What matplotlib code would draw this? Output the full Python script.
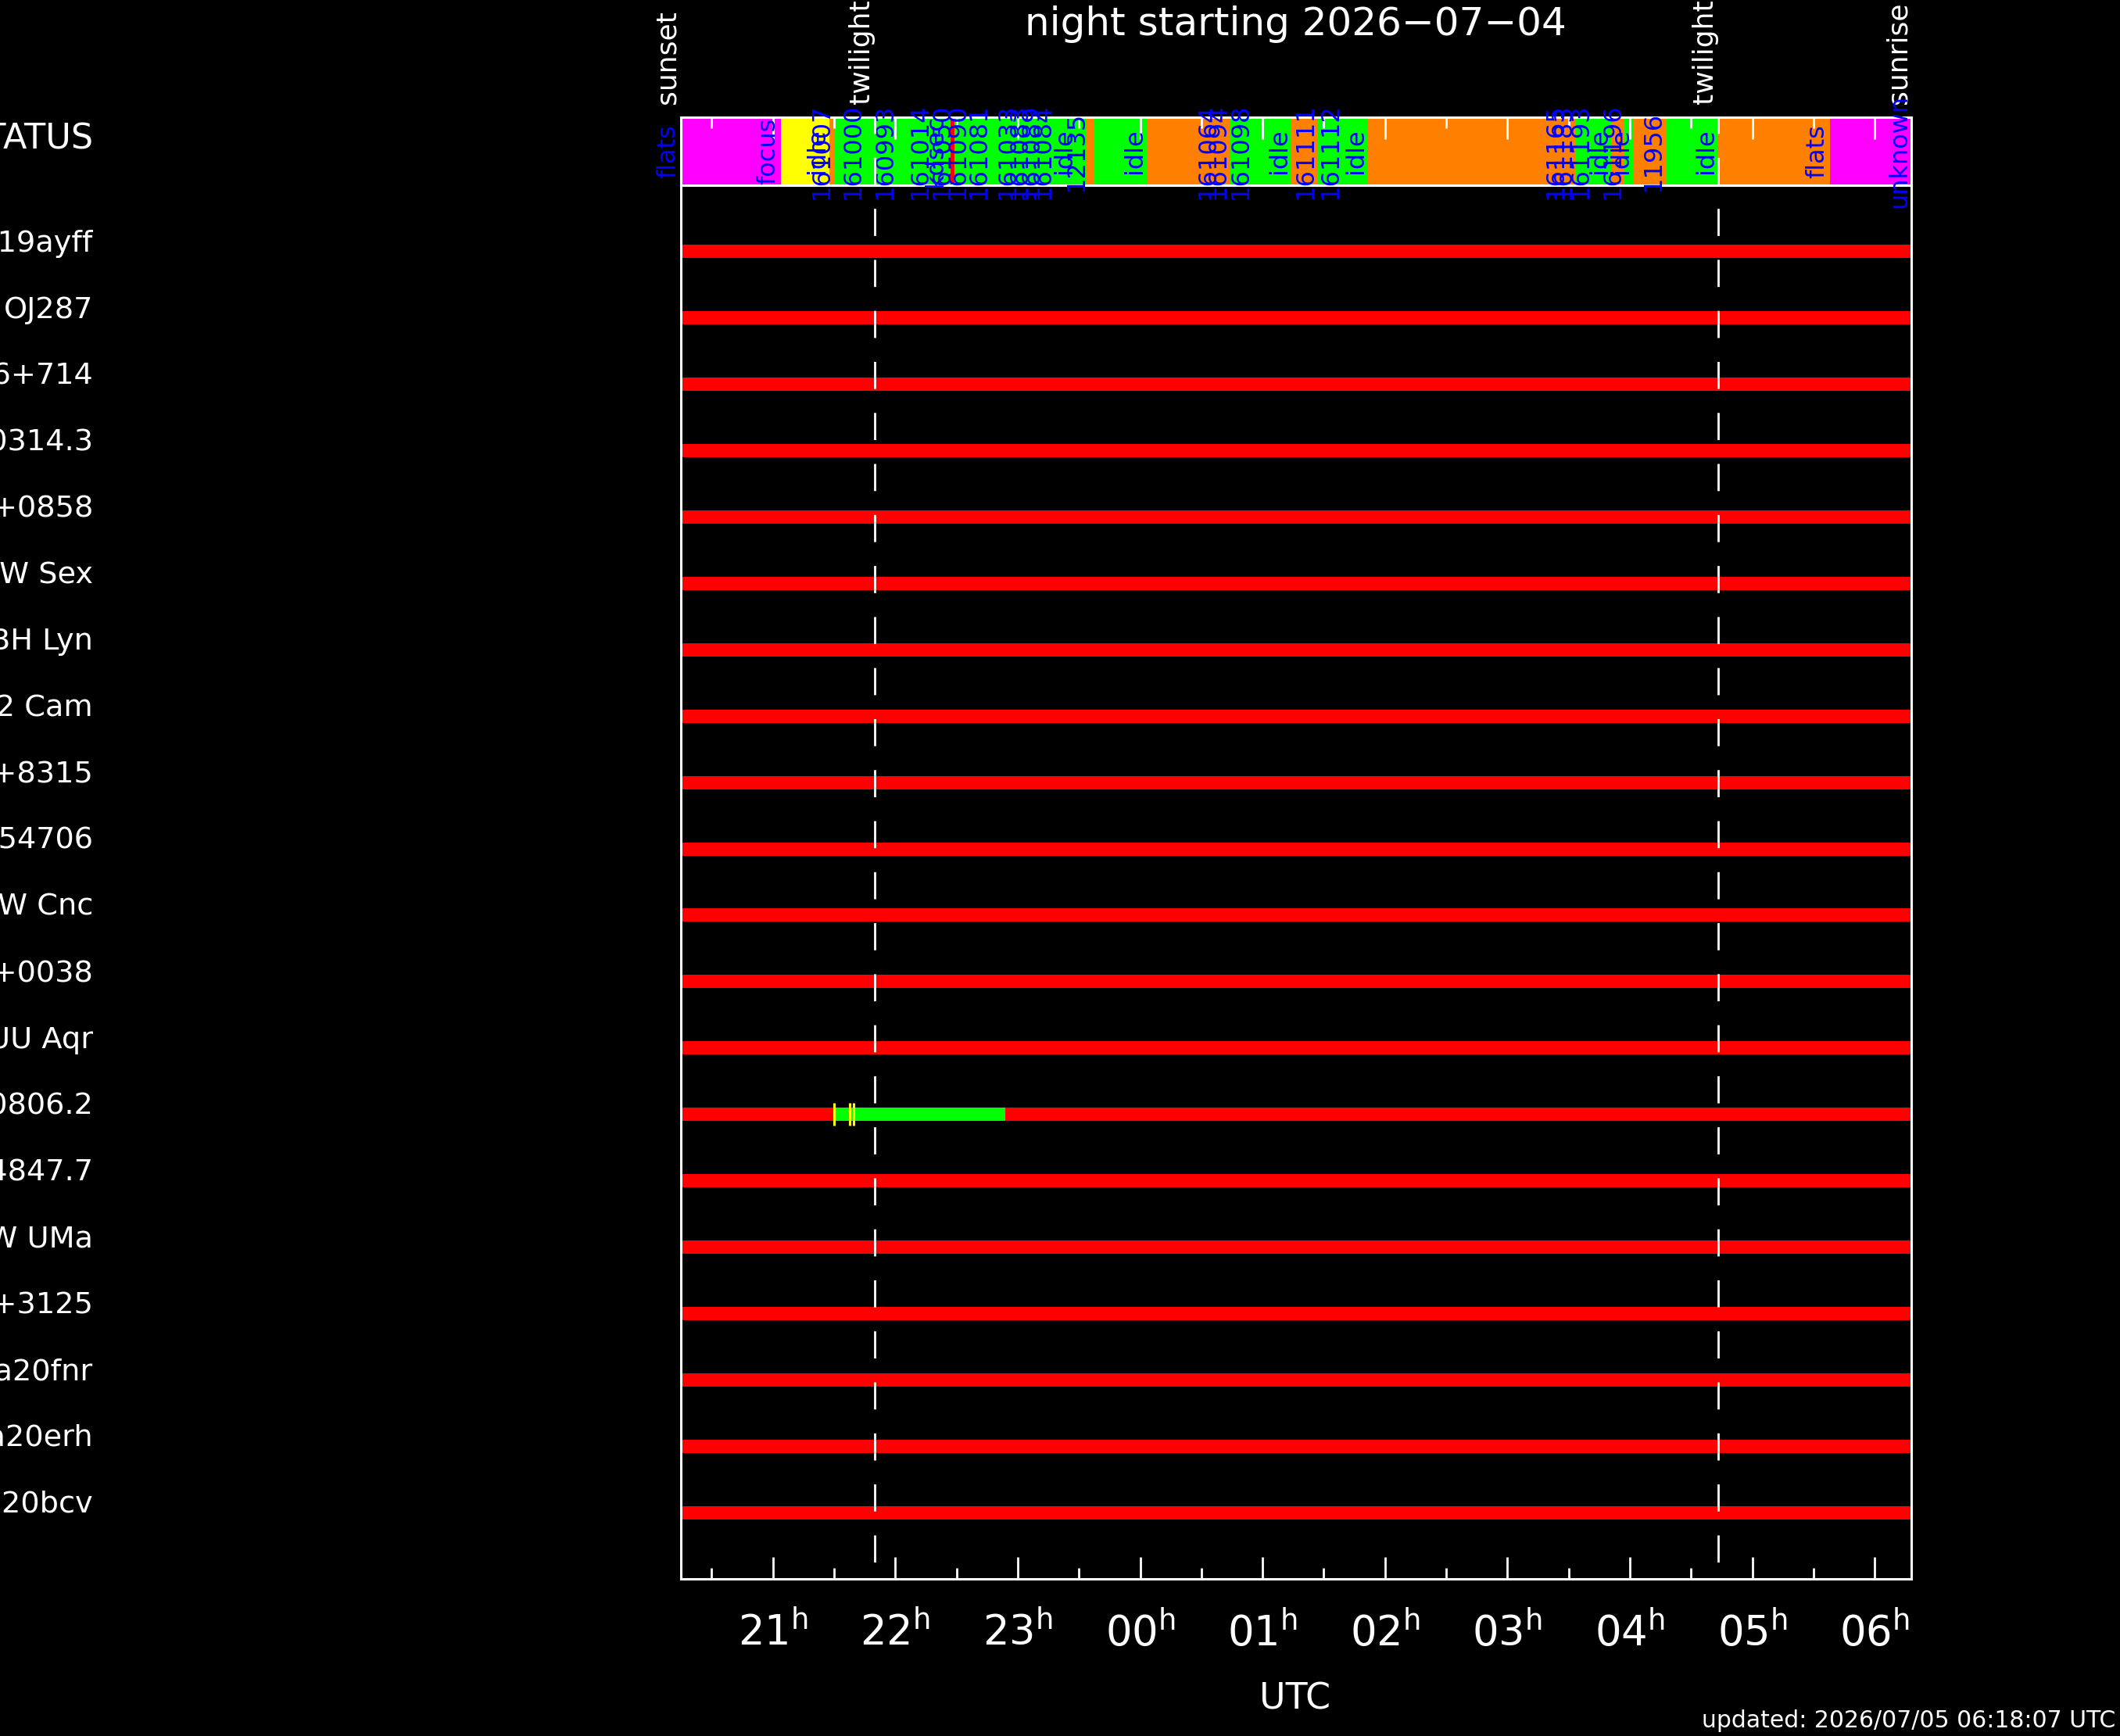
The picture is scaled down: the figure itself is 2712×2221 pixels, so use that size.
import numpy as np
import matplotlib
matplotlib.use('Agg')
import matplotlib.pyplot as plt
import matplotlib.transforms as mtransforms
from matplotlib.ticker import FixedLocator, MultipleLocator

plt.rcParams['lines.scale_dashes'] = False
plt.rcParams['font.family'] = ['DejaVu Sans']

# night limits and events (UTC hours, past midnight counted as 24+)
sunset = 20.246
sunrise = 30.301
twilight_eve = 21.83
twilight_morn = 28.722

# status bar segments
seg_start = np.array([20.246, 21.063, 21.460, 21.499, 22.451, 22.483, 23.554, 23.620,
                      24.056, 24.732, 25.233, 25.450, 25.859, 27.554, 27.854, 27.957,
                      28.027, 28.292, 28.722, 29.632])
seg_kind = ['flats', 'focus', 'idle', 'obs', 'error', 'obs', 'idle', 'obs',
            'idle', 'obs', 'idle', 'obs', 'idle', 'obs', 'idle', 'obs',
            'idle', 'obs', 'idle', 'flats']
seg_end = np.append(seg_start[1:], sunrise)

kind_colors = {'flats': '#ff00ff', 'focus': '#ffff00', 'idle': '#ff8000',
               'obs': '#00ff00', 'error': '#ff0000'}

# status labels (time where label ends, text)
lab_time = [20.246, 21.063, 21.460, 21.499, 21.755, 22.017, 22.300, 22.430,
            22.483, 22.605, 22.778, 23.014, 23.110, 23.206, 23.302, 23.480,
            23.580, 24.056, 24.648, 24.732, 24.916, 25.233, 25.450, 25.651,
            25.859, 27.490, 27.554, 27.694, 27.854, 27.957, 28.027, 28.292,
            28.722, 29.632, 30.301]
lab_text = ['flats', 'focus', 'idle', '161007', '161000', '160993', '161014', 'kdsec',
            '161050', '161090', '161081', '161033', '161083', '161089', '161084', 'idle',
            '12135', 'idle', '161064', '161094', '161098', 'idle', '161111', '161112',
            'idle', '161165', '161183', '161193', 'idle', '161196', 'idle', '11956',
            'idle', 'flats', 'unknown']

# targets
targets = ['ZTF19ayff', 'OJ287', 'S5 0716+714', 'RX J0314.3', 'SDSS J0812+0858',
           'SW Sex', 'BH Lyn', 'LS 2 Cam', 'J0405+8315', 'ASAS 54706',
           'YW Cnc', 'J1234+0038', 'UU Aqr', 'RX J0806.2', 'J0944+4847.7',
           'DW UMa', 'J0713+3125', 'Gaia20fnr', 'Gaia20erh', 'Gaia20bcv']

# observed part for one target (row index from 1)
obs_row = 14
obs_start = 21.50
obs_end = 22.90
mark_times = [21.50, 21.63, 21.66]

hours = np.arange(21, 31)
hour_labels = ['21', '22', '23', '00', '01', '02', '03', '04', '05', '06']

W, H, DPI = 2712, 2221, 100
fig = plt.figure(figsize=(W / DPI, H / DPI), dpi=DPI, facecolor='black')

ax = fig.add_axes([0.3210, 0.0905, 0.5807, 0.8028])
ax_s = fig.add_axes([0.3210, 0.8933, 0.5807, 0.0392])
ax.set_zorder(1)
ax_s.set_zorder(2)

for a in (ax_s, ax):
    a.set_facecolor('black')
    for sp in a.spines.values():
        sp.set_color('white')
        sp.set_linewidth(2.2)
    a.set_xlim(sunset, sunrise)
    a.set_yticks([])
    a.xaxis.set_major_locator(FixedLocator(hours))
    a.xaxis.set_minor_locator(MultipleLocator(0.5))
    a.tick_params(axis='x', which='both', direction='in', colors='white', width=2)
    a.tick_params(axis='x', which='major', length=20)
    a.tick_params(axis='x', which='minor', length=10)

# status bar
ax_s.set_ylim(0, 1)
ax_s.barh(0.5, seg_end - seg_start, left=seg_start, height=1.0,
          color=[kind_colors[k] for k in seg_kind], linewidth=0)
for t, s in zip(lab_time, lab_text):
    ax_s.text(t, 0.5, s, rotation=90, ha='right', va='center', color='#0000ff',
              fontsize=23, clip_on=False, zorder=5)
ax_s.tick_params(axis='x', which='both', top=True, bottom=False,
                 labelbottom=False, labeltop=False)

for t, s in zip([sunset, twilight_eve, twilight_morn, sunrise],
                ['sunset', 'twilight', 'twilight', 'sunrise']):
    ax_s.text(t, 1.2, s, rotation=90, ha='right', va='bottom', color='white',
              fontsize=26, clip_on=False)

# twilight dashed lines from top of status bar to bottom of main panel
main_h = 0.8028 / 0.0392
for t in (twilight_eve, twilight_morn):
    ax_s.plot([t, t], [1, -main_h], color='white', linewidth=2,
              linestyle=(10, (25, 22)), clip_on=False, zorder=6)

# target rows
rows = np.arange(1, len(targets) + 1)
ax.set_ylim(len(targets) + 1, 0)
ax.barh(rows, sunrise - sunset, left=sunset, height=0.2, color='#ff0000', linewidth=0)
ax.barh(obs_row, obs_end - obs_start, left=obs_start, height=0.2, color='#00ff00',
        linewidth=0)
ax.vlines(mark_times, obs_row - 0.17, obs_row + 0.17, color='#ffff00', linewidth=2.2,
          zorder=4)

trans = mtransforms.blended_transform_factory(fig.transFigure, ax.transData)
for r, name in zip(rows, targets):
    ax.text(0.0439, r - 0.12, name, transform=trans, ha='right', va='center',
            color='white', fontsize=27.5)
fig.text(0.0439, 0.9199, 'STATUS', ha='right', va='center', color='white', fontsize=32)

ax.tick_params(axis='x', which='both', top=False, bottom=True, pad=30, labelsize=38)
ax.set_xticklabels([r'$\mathregular{%s^h}$' % h for h in hour_labels])

fig.text(0.611, 1 - 31 / H, 'night starting 2026\u221207\u221204', ha='center',
         va='center', color='white', fontsize=36)
fig.text(0.611, 1 - 2174 / H, 'UTC', ha='center', va='center', color='white', fontsize=33)
fig.text(0.998, 1 - 2202 / H, 'updated: 2026/07/05 06:18:07 UTC', ha='right',
         va='center', color='white', fontsize=21.5)

fig.savefig('out.png', dpi=DPI, facecolor='black')
